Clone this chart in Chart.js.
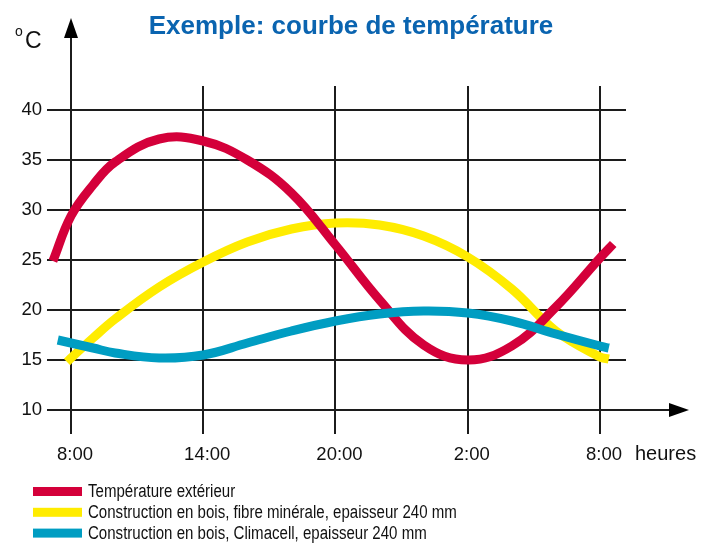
<!DOCTYPE html>
<html>
<head>
<meta charset="utf-8">
<script src="https://cdn.jsdelivr.net/npm/chart.js@4/dist/chart.umd.min.js"></script>
<style>
  html, body { margin: 0; padding: 0; background: #fff; }
  #wrap { width: 702px; height: 543px; }
</style>
</head>
<body>
<div id="wrap"><canvas id="tempChart"></canvas></div>
<script>
// hours counted from 8:00
const hours = [0, 1, 2, 4, 6, 8, 10, 12, 14, 16, 18, 20, 22, 24];
const hourTicks = [0, 6, 12, 18, 24];
const hourLabels = ['8:00', '14:00', '20:00', '2:00', '8:00'];
const tempTicks = [10, 15, 20, 25, 30, 35, 40];

const chartTitle = 'Exemple: courbe de température';
const seriesNames = [
    'Température extérieur',
    'Construction en bois, fibre minérale, epaisseur 240 mm',
    'Construction en bois, Climacell, epaisseur 240 mm'
];
const seriesColors = ['#d4003a', '#ffec00', '#009dc2'];

// first / last point of each curve (curves start a bit before 8:00)
const startHours = [-0.82, -0.18, -0.6];
const startValues = [24.9, 14.8, 17.0];
const endHours = [24.6, 24.4, 24.4];
const endValues = [26.6, 15.1, 16.2];

const tempExterieur = [29.4, 32.5, 34.8, 37.1, 36.9, 35.0, 31.7, 26.5, 21.0, 16.5, 15.0, 16.4, 20.3, 25.2];
const tempFibre = [15.2, 17.2, 19.1, 22.3, 24.8, 26.8, 28.1, 28.7, 28.5, 27.4, 25.3, 22.1, 17.9, 15.3];
const tempClimacell = [16.7, 16.2, 15.7, 15.2, 15.5, 16.7, 17.9, 18.9, 19.6, 19.9, 19.7, 18.9, 17.6, 16.4];

const seriesValues = [tempExterieur, tempFibre, tempClimacell];
const drawOrder = [1, 2, 0];   // blue on top, yellow at the bottom

function buildPoints(i) {
    var pts = [{ x: startHours[i], y: startValues[i] }];
    for (var j = 0; j < hours.length; ++j) {
        pts.push({ x: hours[j], y: seriesValues[i][j] });
    }
    pts.push({ x: endHours[i], y: endValues[i] });
    return pts;
}

const axisColor = '#1c1c1c';
const textColor = '#111';
const fontFamily = '"Liberation Sans", Arial, Helvetica, sans-serif';

const decorations = {
    id: 'decorations',
    afterDraw(chart) {
        const ctx = chart.ctx;
        const xs = chart.scales.x;
        const ys = chart.scales.y;
        const area = chart.chartArea;
        const x0 = xs.getPixelForValue(0);
        const y0 = ys.getPixelForValue(10);
        ctx.save();
        ctx.strokeStyle = axisColor;
        ctx.fillStyle = '#000';
        ctx.lineWidth = 2;
        // y axis arrow
        ctx.beginPath();
        ctx.moveTo(x0, area.top);
        ctx.lineTo(x0, 36);
        ctx.stroke();
        ctx.beginPath();
        ctx.moveTo(x0 - 7, 38);
        ctx.lineTo(x0 + 7, 38);
        ctx.lineTo(x0, 18);
        ctx.closePath();
        ctx.fill();
        // x axis arrow
        ctx.beginPath();
        ctx.moveTo(area.right, y0);
        ctx.lineTo(671, y0);
        ctx.stroke();
        ctx.beginPath();
        ctx.moveTo(669, y0 - 7);
        ctx.lineTo(669, y0 + 7);
        ctx.lineTo(689, y0);
        ctx.closePath();
        ctx.fill();

        // title
        ctx.fillStyle = '#0a64b0';
        ctx.textAlign = 'center';
        ctx.textBaseline = 'alphabetic';
        ctx.font = 'bold 26px ' + fontFamily;
        ctx.fillText(chartTitle, 351, 34);

        // unit labels
        ctx.fillStyle = textColor;
        ctx.textAlign = 'left';
        ctx.font = '14px ' + fontFamily;
        ctx.fillText('o', 15, 36);
        ctx.font = '23px ' + fontFamily;
        ctx.fillText('C', 25, 48);
        ctx.font = '20px ' + fontFamily;
        ctx.textBaseline = 'middle';
        ctx.fillText('heures', 635, 454);

        // legend (narrow type, like the original)
        ctx.font = '18px ' + fontFamily;
        for (var i = 0; i < seriesNames.length; ++i) {
            var cy = 491.5 + i * 20.8;
            ctx.fillStyle = seriesColors[i];
            ctx.fillRect(33, cy - 4.5, 49, 9);
            ctx.fillStyle = textColor;
            ctx.save();
            ctx.translate(88, cy + 1);
            ctx.scale(0.836, 1);
            ctx.fillText(seriesNames[i], 0, 0);
            ctx.restore();
        }
        ctx.restore();
    }
};

const datasets = [];
for (var i = 0; i < seriesNames.length; ++i) {
    datasets.push({
        label: seriesNames[i],
        data: buildPoints(i),
        borderColor: seriesColors[i],
        backgroundColor: seriesColors[i],
        borderWidth: 9,
        pointRadius: 0,
        tension: 0.4,
        order: drawOrder[i],
        fill: false
    });
}

new Chart('tempChart', {
    type: 'line',
    data: { datasets: datasets },
    plugins: [decorations],
    options: {
        responsive: true,
        maintainAspectRatio: false,
        animation: false,
        events: [],
        layout: {
            padding: { left: 0, right: 76, top: 86, bottom: 69 }
        },
        plugins: {
            legend: { display: false },
            tooltip: { enabled: false },
            title: { display: false }
        },
        scales: {
            x: {
                type: 'linear',
                min: -1.089,
                max: 25.18,
                afterBuildTicks: function(scale) {
                    scale.ticks = hourTicks.map(function(v) { return { value: v }; });
                },
                afterFit: function(scale) { scale.height = 40; },
                border: { display: false },
                grid: { color: axisColor, lineWidth: 2, drawTicks: false },
                ticks: {
                    color: textColor,
                    font: { family: fontFamily, size: 18.5 },
                    padding: 10,
                    labelOffset: 4,
                    maxRotation: 0,
                    autoSkip: false,
                    callback: function(value) {
                        return hourLabels[hourTicks.indexOf(value)];
                    }
                }
            },
            y: {
                min: 7.6,
                max: 42.4,
                afterBuildTicks: function(scale) {
                    scale.ticks = tempTicks.map(function(v) { return { value: v }; });
                },
                afterFit: function(scale) { scale.width = 47; },
                border: { display: false },
                grid: { color: axisColor, lineWidth: 2, drawTicks: false },
                ticks: {
                    color: textColor,
                    font: { family: fontFamily, size: 18.5 },
                    padding: 5
                }
            }
        }
    }
});
</script>
</body>
</html>
